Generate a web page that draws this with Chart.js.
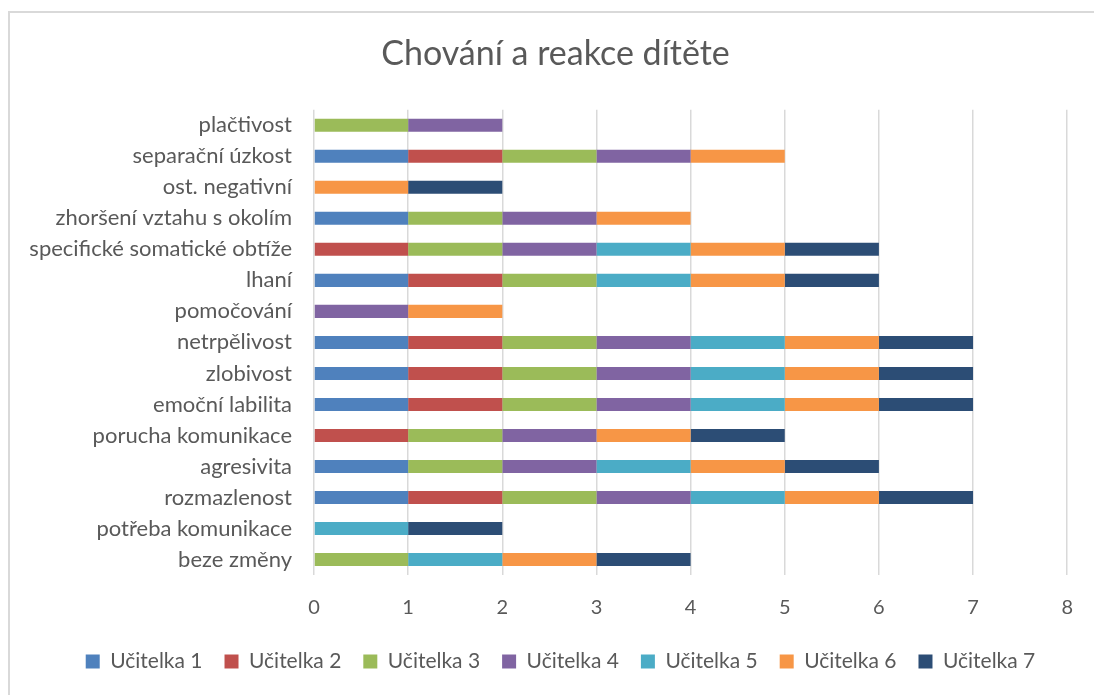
<!DOCTYPE html>
<html><head><meta charset="utf-8">
<script src="https://cdn.jsdelivr.net/npm/chart.js@4/dist/chart.umd.min.js"></script>
<style>
html,body{margin:0;padding:0;background:#fff;overflow:hidden;}
#frame{position:absolute;left:8px;top:11px;width:1086px;height:684px;border-top:2px solid #d9d9d9;border-left:2px solid #d9d9d9;box-sizing:border-box;}
#wrap{position:absolute;left:0;top:0;width:1094px;height:695px;}
</style></head>
<body>
<div id="frame"></div>
<div id="wrap"><canvas id="c" width="1094" height="695"></canvas></div>
<script>
const categories = ["plačtivost","separační úzkost","ost. negativní","zhoršení vztahu s okolím","specifické somatické obtíže","lhaní","pomočování","netrpělivost","zlobivost","emoční labilita","porucha komunikace","agresivita","rozmazlenost","potřeba komunikace","beze změny"];
const seriesNames = ["Učitelka 1","Učitelka 2","Učitelka 3","Učitelka 4","Učitelka 5","Učitelka 6","Učitelka 7"];
const ucitelka1 = [0,1,0,1,0,1,0,1,1,1,0,1,1,0,0];
const ucitelka2 = [0,1,0,0,1,1,0,1,1,1,1,0,1,0,0];
const ucitelka3 = [1,1,0,1,1,1,0,1,1,1,1,1,1,0,1];
const ucitelka4 = [1,1,0,1,1,0,1,1,1,1,1,1,1,0,0];
const ucitelka5 = [0,0,0,0,1,1,0,1,1,1,0,1,1,1,1];
const ucitelka6 = [0,1,1,1,1,1,1,1,1,1,1,1,1,0,1];
const ucitelka7 = [0,0,1,0,1,1,0,1,1,1,1,1,1,1,1];
const xTicks = [0,1,2,3,4,5,6,7,8];
const colors = ["#4F81BD","#C0504D","#9BBB59","#8064A2","#4BACC6","#F79646","#2C4D75"];

const allSeries = [ucitelka1,ucitelka2,ucitelka3,ucitelka4,ucitelka5,ucitelka6,ucitelka7];
const FONT = "Lato, sans-serif";
const TXT = "#595959";
const PAD_LEFT = 20;

const boxShift = {
  id: 'boxShift',
  afterLayout(chart) {
    const lg = chart.legend;
    if (lg) { lg.top -= 12; lg.bottom -= 12; lg.left += 14; lg.right += 14; }
    const tt = chart.titleBlock;
    if (tt) { tt.left += 9; tt.right += 9; }
  }
};

new Chart(document.getElementById('c'), {
  type: 'bar',
  data: {
    labels: categories,
    datasets: allSeries.map((s,i)=>({
      label: seriesNames[i],
      data: s.map(v => v === 0 ? null : v),
      backgroundColor: colors[i],
      borderWidth: 0,
      barPercentage: 0.42,
      categoryPercentage: 1.0
    }))
  },
  plugins: [boxShift],
  options: {
    indexAxis: 'y',
    responsive: false,
    animation: false,
    layout: { padding: { left: PAD_LEFT, right: 21, top: 16, bottom: 1 } },
    plugins: {
      title: {
        display: true,
        text: 'Chování a reakce dítěte',
        color: TXT,
        font: { family: FONT, size: 34, weight: 'normal', lineHeight: 1.2 },
        padding: { top: 18, bottom: 35 }
      },
      legend: {
        position: 'bottom',
        labels: {
          color: TXT,
          font: { family: FONT, size: 21 },
          boxWidth: 14, boxHeight: 14,
          padding: 22
        }
      },
      tooltip: { enabled: false }
    },
    scales: {
      x: {
        stacked: true,
        min: 0, max: 8,
        afterBuildTicks: (ax) => { ax.ticks = xTicks.map(v => ({value: v})); },
        grid: { color: '#d9d9d9', lineWidth: 1.5, drawTicks: false },
        border: { display: false },
        ticks: { color: TXT, font: { family: FONT, size: 20 }, padding: 21 }
      },
      y: {
        stacked: true,
        grid: { display: false, drawTicks: false },
        border: { display: false },
        ticks: { color: TXT, font: { family: FONT, size: 22 }, padding: 22 },
        afterFit: (ax) => { ax.width = 314 - PAD_LEFT; }
      }
    }
  }
});
</script>
</body></html>
